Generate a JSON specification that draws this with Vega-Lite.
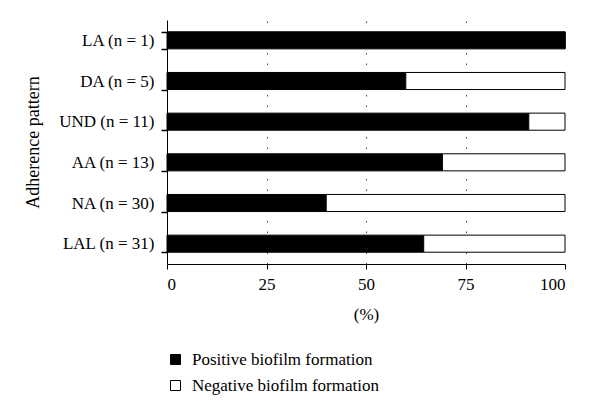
{
  "$schema": "https://vega.github.io/schema/vega-lite/v6.json",
  "width": 398,
  "height": 244,
  "autosize": "none",
  "padding": {"left": 167, "top": 20, "right": 35, "bottom": 150},
  "background": "white",
  "config": {
    "view": {"stroke": null},
    "font": "Liberation Serif",
    "axis": {"labelFont": "Liberation Serif", "titleFont": "Liberation Serif", "labelColor": "black", "titleColor": "black", "domainColor": "black", "tickColor": "black", "labelFontSize": 17, "titleFontSize": 17, "titleFontWeight": "normal"},
    "axisY": {"ticks": true, "tickSize": 6, "tickWidth": 1.5},
    "legend": {"labelFont": "Liberation Serif", "labelFontSize": 17, "labelColor": "black", "labelLimit": 0}
  },
  "data": {
    "values": [
      {"pattern": "LA (n = 1)", "result": "Positive biofilm formation", "k": 1, "percent": 100},
      {"pattern": "LA (n = 1)", "result": "Negative biofilm formation", "k": 2, "percent": 0},
      {"pattern": "DA (n = 5)", "result": "Positive biofilm formation", "k": 1, "percent": 60},
      {"pattern": "DA (n = 5)", "result": "Negative biofilm formation", "k": 2, "percent": 40},
      {"pattern": "UND (n = 11)", "result": "Positive biofilm formation", "k": 1, "percent": 90.9},
      {"pattern": "UND (n = 11)", "result": "Negative biofilm formation", "k": 2, "percent": 9.1},
      {"pattern": "AA (n = 13)", "result": "Positive biofilm formation", "k": 1, "percent": 69.2},
      {"pattern": "AA (n = 13)", "result": "Negative biofilm formation", "k": 2, "percent": 30.8},
      {"pattern": "NA (n = 30)", "result": "Positive biofilm formation", "k": 1, "percent": 40},
      {"pattern": "NA (n = 30)", "result": "Negative biofilm formation", "k": 2, "percent": 60},
      {"pattern": "LAL (n = 31)", "result": "Positive biofilm formation", "k": 1, "percent": 64.5},
      {"pattern": "LAL (n = 31)", "result": "Negative biofilm formation", "k": 2, "percent": 35.5}
    ]
  },
  "mark": {"type": "bar", "stroke": "black", "strokeWidth": 1},
  "encoding": {
    "y": {
      "field": "pattern",
      "type": "nominal",
      "sort": ["LA (n = 1)", "DA (n = 5)", "UND (n = 11)", "AA (n = 13)", "NA (n = 30)", "LAL (n = 31)"],
      "scale": {"paddingInner": 0.58, "paddingOuter": 0.29},
      "axis": {"title": "Adherence pattern", "titleFontSize": 18, "ticks": true, "tickBand": "extent", "tickExtra": true, "tickSize": 6, "tickWidth": 1.5, "tickColor": "black", "labelPadding": 7, "titlePadding": 16, "grid": false}
    },
    "x": {
      "field": "percent",
      "type": "quantitative",
      "stack": "zero",
      "scale": {"domain": [0, 100], "nice": false},
      "axis": {
        "title": "(%)",
        "values": [0, 25, 50, 75, 100],
        "tickSize": 5,
        "labelPadding": 7,
        "titlePadding": 14,
        "grid": true,
        "gridColor": "#444",
        "gridDash": [1.5, 9],
        "gridOpacity": {"condition": {"test": "datum.value > 0 && datum.value < 100", "value": 1}, "value": 0}
      }
    },
    "order": {"field": "k", "type": "quantitative"},
    "fill": {
      "field": "result",
      "type": "nominal",
      "scale": {"domain": ["Positive biofilm formation", "Negative biofilm formation"], "range": ["black", "white"]},
      "legend": {
        "title": null,
        "orient": "none",
        "legendX": 0,
        "legendY": 331,
        "symbolType": "square",
        "symbolSize": 100,
        "symbolStrokeColor": "black",
        "symbolStrokeWidth": 1,
        "labelOffset": 8,
        "rowPadding": 8
      }
    }
  }
}
